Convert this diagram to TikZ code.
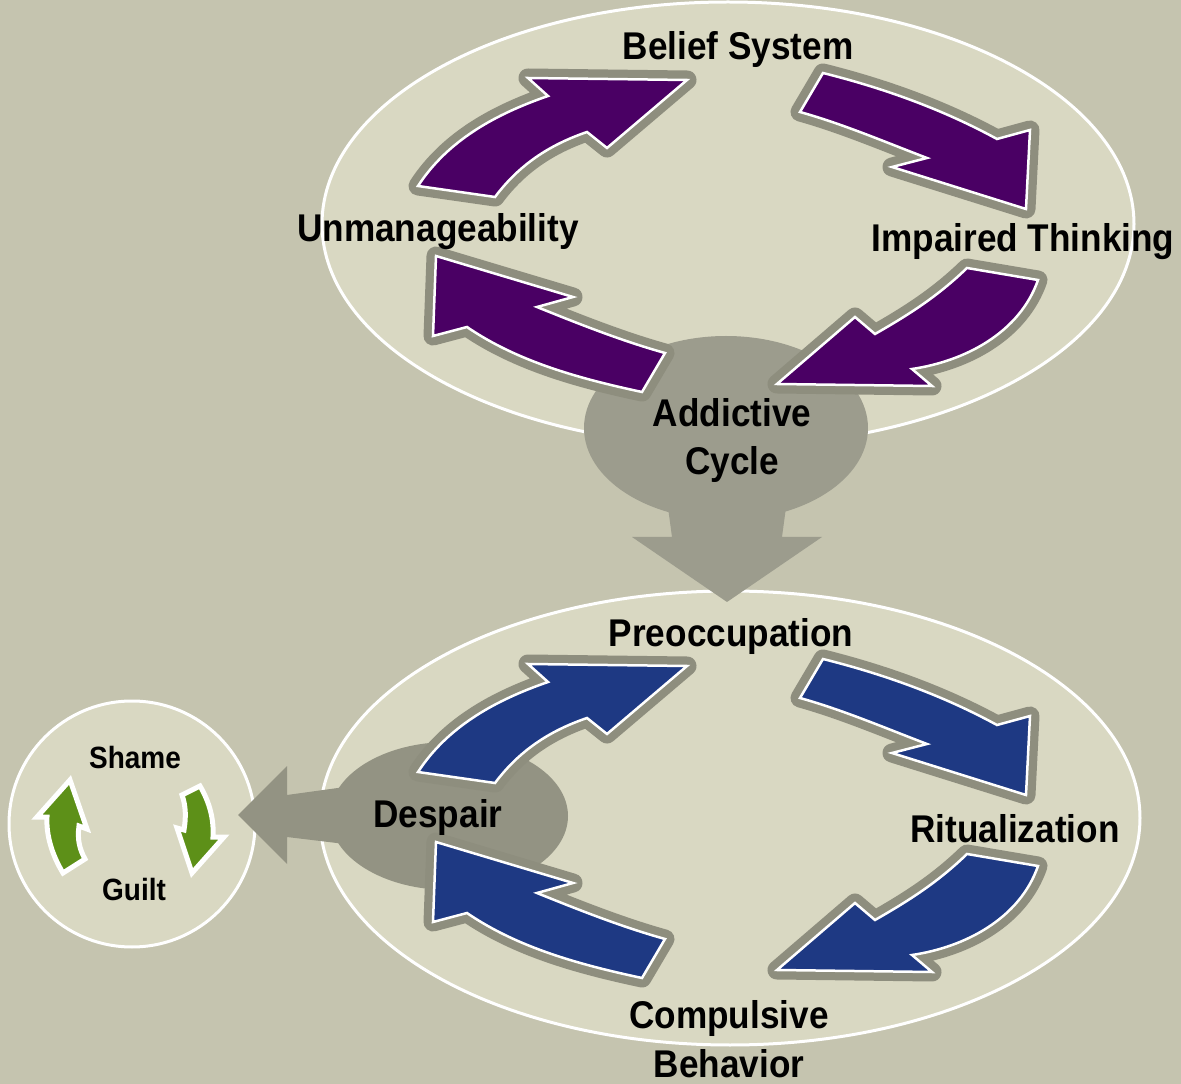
\documentclass[tikz,border=0pt]{standalone}
\usepackage{fontspec}
\setmainfont{Liberation Sans}[FakeStretch=0.91]
\usetikzlibrary{positioning}

\definecolor{bgolive}{RGB}{197,196,175}
\definecolor{ovalcream}{RGB}{217,216,194}
\definecolor{rimgray}{RGB}{142,142,126}
\definecolor{cycgray}{RGB}{156,156,141}
\definecolor{despgray}{RGB}{147,147,131}
\definecolor{addpurple}{RGB}{74,0,100}
\definecolor{preblue}{RGB}{30,57,131}
\definecolor{leafgreen}{RGB}{93,144,24}

\begin{document}
\begin{tikzpicture}[
    x=0.02cm, y=-0.02cm,
    oval/.style={fill=ovalcream, draw=white, line width=0.06cm},
    cyclearrow/.style={fill=#1, draw=white, line width=0.05cm,
        preaction={draw=rimgray, line width=0.38cm, line join=round}},
    guiltarrow/.style={fill=leafgreen, draw=white, line width=0.1cm},
    cyclelabel/.style={font=\fontsize{22}{27.5}\selectfont\bfseries, inner sep=0pt, anchor=base, align=center},
    guiltlabel/.style={font=\fontsize{17.5}{21}\selectfont\bfseries, inner sep=0pt, anchor=base}
]
% Canvas
\fill[bgolive] (0,0) rectangle (1181,1084);
\useasboundingbox (0,0) rectangle (1181,1084);

% Ovals (top, bottom) and the small circle
\draw[oval] (728,224) ellipse [x radius=406, y radius=222];
\draw[oval] (730,818) ellipse [x radius=410, y radius=227];
\draw[oval] (132,824) circle [radius=123];

% Addictive Cycle blob with arrow down
\fill[cycgray] (726,428) ellipse [x radius=142, y radius=92];
\fill[cycgray] (667,500) -- (787,500) -- (782,537) -- (822,537) -- (727,602)
    -- (632,537) -- (672,537) -- cycle;

% Despair blob with arrow left
\fill[despgray] (449,816) ellipse [x radius=119, y radius=74];
\fill[despgray] (345,787) -- (287,795) -- (287,766) -- (238,815) -- (287,864)
    -- (287,837) -- (345,844) -- cycle;

% Four curved arrows, once per cycle
\foreach \dy/\col in {0/addpurple, 586/preblue} {
  \begin{scope}[shift={(0,\dy)}]
    % left -> top
    \filldraw[cyclearrow=\col] (418,186) .. controls (448,140) and (496,114) .. (548,96)
        -- (528,78) -- (687,80) -- (607,148) -- (587,132)
        .. controls (549,145) and (519,165) .. (495,197) -- cycle;
    % top -> right
    \filldraw[cyclearrow=\col] (823,73) .. controls (883,88) and (942,109) .. (997,139)
        -- (1030,130) -- (1026,209) -- (892,167) -- (927,158)
        .. controls (885,142) and (843,124) .. (800,112) -- cycle;
    % right -> bottom
    \filldraw[cyclearrow=\col] (1038,280) .. controls (1020,332) and (966,361) .. (912,369)
        -- (932,386) -- (777,384) -- (855,317) -- (875,334)
        .. controls (910,314) and (938,296) .. (967,268) -- cycle;
    % bottom -> left
    \filldraw[cyclearrow=\col] (642,392) .. controls (581,379) and (518,362) .. (467,327)
        -- (433,336) -- (436,256) -- (573,297) -- (537,307)
        .. controls (579,324) and (622,341) .. (665,353) -- cycle;
  \end{scope}
}

% Shame / Guilt arrows
\filldraw[guiltarrow] (63,873) .. controls (52,855) and (46,835) .. (47,817)
    -- (37,817) -- (70,780) -- (87,829) -- (79,826)
    .. controls (77,840) and (80,850) .. (85,859) -- cycle;
\filldraw[guiltarrow] (182,795) -- (200,786) .. controls (210,803) and (214,820) .. (213,837)
    -- (224,837) -- (192,873) -- (177,828) -- (184,830)
    .. controls (186,818) and (186,806) .. (182,795) -- cycle;

% Labels (base anchor = last line)
\node[cyclelabel] (belief) at (738,60) {Belief System};
\node[cyclelabel] (unmanage) at (438,242) {Unmanageability};
\node[cyclelabel] (impaired) at (1023,252) {Impaired Thinking};
\node[cyclelabel] (addictive) at (732,475) {Addictive\\Cycle};
\node[cyclelabel] (preocc) at (731,646) {Preoccupation};
\node[cyclelabel] (ritual) at (1015,842) {Ritualization};
\node[cyclelabel] (despair) at (438,827) {Despair};
\node[cyclelabel] (compulsive) at (729,1077) {Compulsive\\Behavior};
\node[guiltlabel] (shame) at (135,768) {Shame};
\node[guiltlabel] (guilt) at (134,900) {Guilt};

\end{tikzpicture}
\end{document}
